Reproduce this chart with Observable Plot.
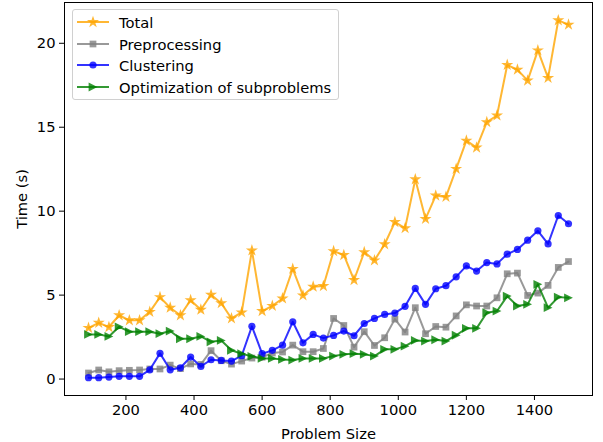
<!DOCTYPE html>
<html>
<head>
<meta charset="utf-8">
<script src="https://cdn.jsdelivr.net/npm/d3@7"></script>
<script src="https://cdn.jsdelivr.net/npm/@observablehq/plot@0.6"></script>
<style>
  html, body { margin: 0; padding: 0; background: #fff; }
  #chart { position: relative; width: 603px; height: 442px; font-family: "DejaVu Sans", sans-serif; }
  #legend {
    position: absolute; left: 72px; top: 9px; width: 267px; height: 91px;
    border: 1px solid #d0d0d0; border-radius: 3px; background: rgba(255,255,255,0.8);
    box-sizing: border-box;
  }
  .row { position: absolute; left: 0; height: 20px; display: flex; align-items: center; font-size: 14.7px; color: #000; white-space: nowrap; }
  .row svg { margin-left: 4px; margin-right: 10px; }
</style>
</head>
<body>
<div id="chart"><div id="legend"></div></div>
<script>
// Problem sizes (x) and timings in seconds for each stage
const sizes = [90, 120, 150, 180, 210, 240, 270, 300, 330, 360, 390, 420, 450, 480, 510, 540,
  570, 600, 630, 660, 690, 720, 750, 780, 810, 840, 870, 900, 930, 960, 990, 1020,
  1050, 1080, 1110, 1140, 1170, 1200, 1230, 1260, 1290, 1320, 1350, 1380, 1410, 1440, 1470, 1500];

const total = [3.05, 3.35, 3.1, 3.8, 3.5, 3.5, 4.0, 4.88, 4.25, 3.8, 4.7, 4.13, 5.02, 4.52, 3.61, 3.97,
  7.66, 4.05, 4.36, 4.8, 6.56, 4.98, 5.5, 5.54, 7.62, 7.39, 5.9, 7.56, 7.07, 8.03, 9.35, 8.99,
  11.9, 9.54, 10.93, 10.85, 12.52, 14.2, 13.79, 15.3, 15.7, 18.71, 18.43, 17.78, 19.58, 17.94, 21.37, 21.11];

const preprocessing = [0.36, 0.54, 0.43, 0.5, 0.52, 0.54, 0.6, 0.6, 0.83, 0.62, 0.9, 0.87, 1.69, 1.09, 0.89, 1.07,
  1.25, 1.3, 1.55, 1.61, 2.02, 1.63, 1.63, 1.82, 3.61, 3.19, 1.9, 2.82, 2.0, 2.46, 3.57, 2.8,
  4.25, 2.7, 3.13, 3.09, 3.76, 4.42, 4.35, 4.35, 4.84, 6.27, 6.31, 4.98, 5.12, 5.58, 6.65, 7.0];

const clustering = [0.08, 0.08, 0.12, 0.16, 0.16, 0.16, 0.55, 1.53, 0.55, 0.67, 1.31, 0.75, 1.15, 1.11, 1.07, 1.39,
  3.14, 1.51, 1.71, 2.02, 3.41, 2.16, 2.66, 2.44, 2.6, 2.86, 2.58, 3.31, 3.61, 3.85, 3.93, 4.33,
  5.4, 4.45, 5.38, 5.56, 6.09, 6.74, 6.43, 6.94, 6.86, 7.44, 7.72, 8.27, 8.83, 8.05, 9.74, 9.25];

const optimization = [2.66, 2.66, 2.54, 3.11, 2.82, 2.82, 2.82, 2.7, 2.86, 2.4, 2.4, 2.54, 2.22, 2.3, 1.71, 1.51,
  1.35, 1.23, 1.23, 1.17, 1.13, 1.23, 1.23, 1.23, 1.37, 1.47, 1.51, 1.47, 1.37, 1.77, 1.77, 1.96,
  2.3, 2.26, 2.34, 2.26, 2.61, 3.02, 3.02, 3.95, 4.05, 4.94, 4.35, 4.45, 5.64, 4.25, 4.88, 4.84];

const xTicks = [200, 400, 600, 800, 1000, 1200, 1400];
const yTicks = [0, 5, 10, 15, 20];

// Right-pointing triangle marker
const triangleRight = {
  draw(context, size) {
    const r = Math.sqrt(size / Math.PI);
    context.moveTo(r, 0);
    context.lineTo(-r, -r);
    context.lineTo(-r, r);
    context.closePath();
  }
};

const series = [
  {name: "Total", values: total, color: "#ffa500", symbol: d3.symbolStar, r: 3.8},
  {name: "Preprocessing", values: preprocessing, color: "#808080", symbol: d3.symbolSquare, r: 3.8},
  {name: "Clustering", values: clustering, color: "#0000ff", symbol: d3.symbolCircle, r: 3.6},
  {name: "Optimization of subproblems", values: optimization, color: "#008000", symbol: triangleRight, r: 4.4}
];

const marks = [];
for (const s of series) {
  const data = sizes.map((x, i) => ({x, y: s.values[i]}));
  marks.push(Plot.line(data, {x: "x", y: "y", stroke: s.color, strokeWidth: 2, strokeOpacity: 0.8}));
  marks.push(Plot.dot(data, {x: "x", y: "y", symbol: s.symbol, r: s.r, fill: s.color, fillOpacity: 0.8, stroke: "none"}));
}

const fmt = d3.format("d");
const chart = Plot.plot({
  width: 603,
  height: 442,
  marginLeft: 64,
  marginRight: 11,
  marginTop: 2,
  marginBottom: 47,
  style: {fontFamily: "DejaVu Sans", fontSize: "14.7px", color: "#000", background: "#fff"},
  x: {domain: [19.5, 1570.5]},
  y: {domain: [-0.98, 22.43]},
  marks: [
    ...marks,
    Plot.frame({stroke: "#000", strokeWidth: 1}),
    Plot.axisX({ticks: xTicks, tickFormat: fmt, tickSize: 5, tickPadding: 4, fontSize: 14.7, label: "Problem Size",
      labelAnchor: "center", labelArrow: "none", labelOffset: 43}),
    Plot.axisY({ticks: yTicks, tickFormat: fmt, tickSize: 5, tickPadding: 4, fontSize: 14.7, label: "Time (s)",
      labelAnchor: "center", labelArrow: "none", labelOffset: 48})
  ]
});
document.getElementById("chart").prepend(chart);

// Legend
const legend = d3.select("#legend");
const rowTops = [2, 24, 45, 67];
series.forEach((s, i) => {
  const row = legend.append("div").attr("class", "row").style("top", rowTops[i] + "px");
  const svg = row.append("svg").attr("width", 32).attr("height", 20);
  svg.append("line").attr("x1", 0).attr("x2", 32).attr("y1", 10).attr("y2", 10)
    .attr("stroke", s.color).attr("stroke-width", 2).attr("stroke-opacity", 0.8);
  svg.append("path").attr("transform", "translate(16,10)")
    .attr("d", d3.symbol(s.symbol, s.r * s.r * Math.PI)())
    .attr("fill", s.color).attr("fill-opacity", 0.8);
  row.append("span").text(s.name);
});
</script>
</body>
</html>
